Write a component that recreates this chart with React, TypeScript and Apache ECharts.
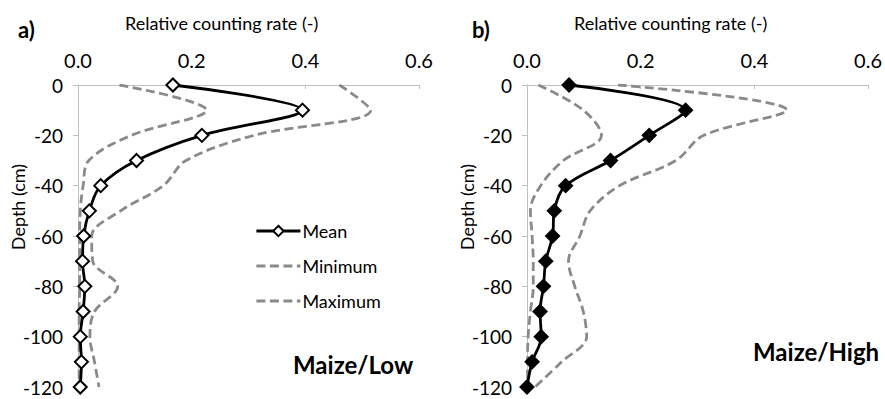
import React, { useEffect, useRef } from "react";
import * as echarts from "echarts";

const depths = [0, -10, -20, -30, -40, -50, -60, -70, -80, -90, -100, -110, -120];
const xTicks = [0, 0.2, 0.4, 0.6];
const yTicks = [0, -20, -40, -60, -80, -100, -120];

const meanLow = [0.167, 0.395, 0.218, 0.103, 0.040, 0.020, 0.010, 0.008, 0.012, 0.009, 0.004, 0.006, 0.004];
const minLow = [0.073, 0.226, 0.094, 0.019, 0.009, 0.004, 0.003, 0.003, 0.003, 0.002, 0.002, 0.002, 0.002];
const maxLow = [0.460, 0.515, 0.310, 0.190, 0.150, 0.075, 0.024, 0.026, 0.070, 0.029, 0.021, 0.029, 0.037];

const meanHigh = [0.074, 0.279, 0.215, 0.147, 0.068, 0.048, 0.045, 0.033, 0.029, 0.023, 0.025, 0.009, 0.0];
const minHigh = [0.020, 0.099, 0.131, 0.064, 0.024, 0.006, 0.009, 0.011, 0.011, 0.006, 0.002, 0.001, 0.001];
const maxHigh = [0.160, 0.457, 0.311, 0.262, 0.163, 0.111, 0.093, 0.073, 0.084, 0.099, 0.105, 0.061, 0.014];

const legendNames = ["Mean", "Minimum", "Maximum"];
const xTitle = "Relative counting rate (-)";
const yTitle = "Depth (cm)";
const panelLabels = ["a)", "b)"];
const panelNames = ["Maize/Low", "Maize/High"];

const FONT = "Lato, 'Open Sans', sans-serif";
const GRAY = "#8a8a8a";
const AXIS = "#bfbfbf";
const LW = 2.8;

const pts = (xs: number[]) => xs.map((v, i) => [v, depths[i]]);

export default function App() {
  const ref = useRef<HTMLDivElement>(null);
  useEffect(() => {
    if (!ref.current) return;
    const chart = echarts.init(ref.current, null, { renderer: "svg" });
    const grids = [
      { left: 78, top: 85, width: 341, height: 302 },
      { left: 527, top: 85, width: 343, height: 302 },
    ];
    const xAxes = grids.map((_, i) => ({
      type: "value",
      gridIndex: i,
      position: "top",
      min: xTicks[0],
      max: xTicks[xTicks.length - 1],
      interval: 0.2,
      axisLine: { show: true, lineStyle: { color: AXIS, width: 1 } },
      axisTick: { show: true, inside: true, length: 4, lineStyle: { color: AXIS } },
      splitLine: { show: false },
      axisLabel: {
        color: "#000",
        fontFamily: FONT,
        fontSize: 20,
        margin: 15,
        formatter: (v: number) => v.toFixed(1),
      },
    }));
    const yAxes = grids.map((_, i) => ({
      type: "value",
      gridIndex: i,
      min: yTicks[yTicks.length - 1],
      max: yTicks[0],
      interval: 20,
      axisLine: { show: true, onZero: false, lineStyle: { color: AXIS, width: 1 } },
      axisTick: { show: true, inside: false, length: 5, lineStyle: { color: AXIS } },
      splitLine: { show: false },
      axisLabel: { color: "#000", fontFamily: FONT, fontSize: 19, margin: 15 },
    }));
    const mk = (name: string, data: number[], idx: number, kind: "mean" | "dash", filled: boolean) => ({
      type: "line",
      name,
      xAxisIndex: idx,
      yAxisIndex: idx,
      data: pts(data),
      smooth: 0.35,
      showSymbol: kind === "mean",
      symbol: kind === "mean" ? "diamond" : "none",
      symbolSize: kind === "mean" ? 13 : 0,
      z: kind === "mean" ? 3 : 2,
      lineStyle:
        kind === "mean"
          ? { color: "#000", width: LW }
          : { color: GRAY, width: LW, type: [9, 4.5] },
      itemStyle:
        kind === "mean"
          ? { color: filled ? "#000" : "#fff", borderColor: "#000", borderWidth: 2 }
          : { color: GRAY },
    });
    const series = [
      mk(legendNames[0], meanLow, 0, "mean", false),
      mk(legendNames[1], minLow, 0, "dash", false),
      mk(legendNames[2], maxLow, 0, "dash", false),
      mk(legendNames[0] + " b", meanHigh, 1, "mean", true),
      mk(legendNames[1] + " b", minHigh, 1, "dash", true),
      mk(legendNames[2] + " b", maxHigh, 1, "dash", true),
    ];
    const texts: any[] = [];
    const offs = [0, 449];
    [0, 1].forEach((i) => {
      texts.push({
        type: "text",
        left: 125 + offs[i],
        top: 14,
        style: { text: xTitle, font: `18px ${FONT}`, fill: "#000" },
      });
      texts.push({
        type: "text",
        x: 18 + offs[i],
        y: 207,
        rotation: Math.PI / 2,
        style: { text: yTitle, font: `18px ${FONT}`, fill: "#000", align: "center", verticalAlign: "middle" },
      });
      texts.push({
        type: "text",
        left: 18 + (i === 1 ? 454 : 0),
        top: 18,
        style: { text: panelLabels[i], font: `bold 22px ${FONT}`, fill: "#000" },
      });
    });
    texts.push({
      type: "text",
      left: 293,
      top: 352,
      style: { text: panelNames[0], font: `bold 24px ${FONT}`, fill: "#000" },
    });
    texts.push({
      type: "text",
      left: 753,
      top: 339,
      style: { text: panelNames[1], font: `bold 24px ${FONT}`, fill: "#000" },
    });
    chart.setOption({
      animation: false,
      grid: grids,
      xAxis: xAxes,
      yAxis: yAxes,
      legend: {
        data: [
          { name: legendNames[0] },
          { name: legendNames[1], itemStyle: { opacity: 0 } },
          { name: legendNames[2], itemStyle: { opacity: 0 } },
        ],
        orient: "vertical",
        left: 250,
        top: 217,
        itemWidth: 44,
        itemHeight: 13,
        itemGap: 17,
        lineStyle: { width: LW },
        textStyle: { fontFamily: FONT, fontSize: 18, color: "#000", padding: [0, 0, 0, -3] },
        selectedMode: false,
      },
      series,
      graphic: texts,
    });
    return () => chart.dispose();
  }, []);
  return <div ref={ref} style={{ position: "absolute", left: 0, top: 0, width: 885, height: 399 }} />;
}
